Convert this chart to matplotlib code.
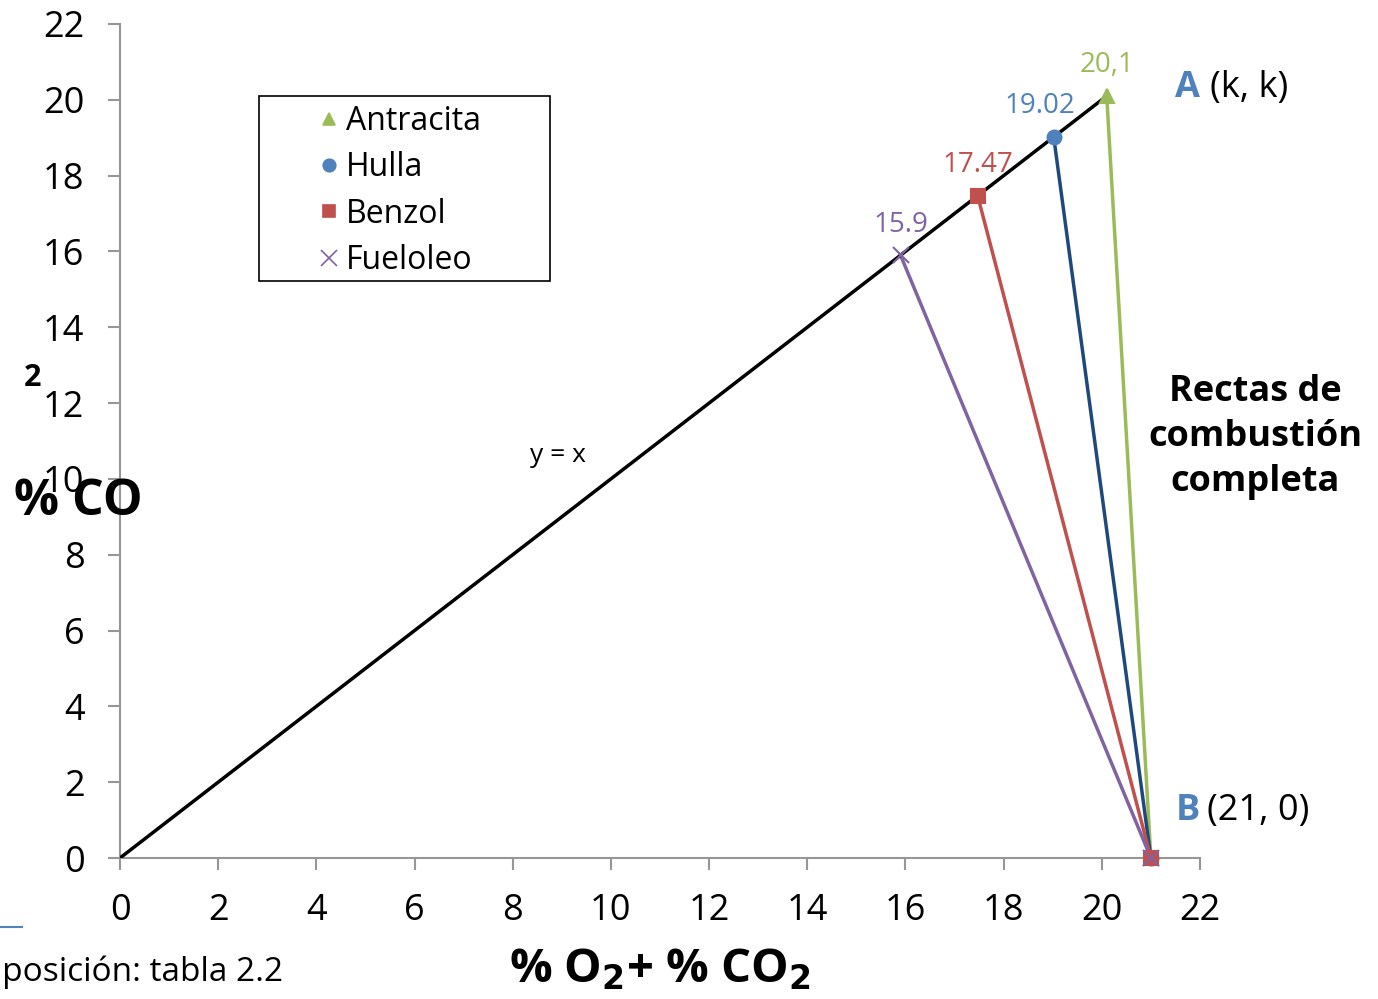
import matplotlib
matplotlib.rcParams["axes.unicode_minus"] = False
import matplotlib.pyplot as plt
from matplotlib.lines import Line2D
from matplotlib.patches import Rectangle

plt.rcParams["font.family"] = ["Open Sans", "DejaVu Sans"]

# combustibles: punto sobre y = x (k, k) y recta hasta B (21, 0)
fuels = ["Antracita", "Hulla", "Benzol", "Fueloleo"]
k_values = [20.1, 19.02, 17.47, 15.9]
k_labels = ["20,1", "19.02", "17.47", "15.9"]
marker_colors = ["#9BBB59", "#4F81BD", "#C0504D", "#8064A2"]
line_colors = ["#9BBB59", "#1F497D", "#C0504D", "#8064A2"]
markers = ["^", "o", "s", "x"]
point_b = (21, 0)
ticks = list(range(0, 23, 2))

W, H = 1378, 999


def fx(px):
    return px / W


def fy(py):
    return 1 - py / H


fig = plt.figure(figsize=(W / 100, H / 100), dpi=100)
ax = fig.add_axes([fx(120), fy(858), 1080 / W, 834 / H])
ax.set_xlim(0, 22)
ax.set_ylim(0, 22)
for s in ("top", "right"):
    ax.spines[s].set_visible(False)
for s in ("left", "bottom"):
    ax.spines[s].set_color("#969696")
    ax.spines[s].set_linewidth(1.5)
ax.set_xticks(ticks)
ax.set_yticks(ticks)
ax.tick_params(colors="#969696", labelcolor="black", length=8.5, width=1.5,
               labelsize=26, direction="out")
ax.tick_params(axis="x", pad=17)
ax.tick_params(axis="y", pad=17)

# recta y = x
ax.plot([0, k_values[0]], [0, k_values[0]], color="black", lw=2.5, zorder=3)

# rectas de combustion completa
for k, lc in zip(k_values, line_colors):
    ax.plot([k, point_b[0]], [k, point_b[1]], color=lc, lw=2.5, zorder=2)

for name, k, mc, m in zip(fuels, k_values, marker_colors, markers):
    ms = 10 if m != "x" else 12
    ax.plot([k, point_b[0]], [k, point_b[1]], ls="none", marker=m, color=mc,
            ms=ms, mew=1.5, zorder=4, clip_on=False)

offsets = [(0, 12), (-10, 12), (0, 12), (0, 12)]
for k, lab, mc, off in zip(k_values, k_labels, marker_colors, offsets):
    ax.annotate(lab, (k, k), xytext=off, textcoords="offset points",
                ha="center", va="bottom", color=mc, fontsize=20)

ax.text(8.92, 10.63, "y = x", fontsize=19, ha="center", va="center")

ax.text(21.5, 20.3, "A", color="#4F81BD", fontsize=26, fontweight="bold",
        ha="left", va="center")
ax.text(22.2, 20.3, "(k, k)", fontsize=26, ha="left", va="center")
ax.text(21.5, 1.25, "B", color="#4F81BD", fontsize=26, fontweight="bold",
        ha="left", va="center")
ax.text(22.15, 1.25, "(21, 0)", fontsize=26, ha="left", va="center")

fig.text(fx(1255), fy(437), "Rectas de\ncombustión\ncompleta",
         fontsize=26, fontweight="bold", ha="center", va="center",
         linespacing=1.35)

# titulos de ejes
fig.text(fx(78), fy(502), "% CO", fontsize=36, fontweight="bold",
         ha="center", va="center")
fig.text(fx(33), fy(378), "2", fontsize=22, fontweight="bold",
         ha="center", va="center")
fig.text(fx(660), fy(970), r"% O$_\mathbf{2}$+ % CO$_\mathbf{2}$",
         fontsize=34, fontweight="bold", ha="center", va="center")

fig.text(fx(283), fy(972), "Composición: tabla 2.2", fontsize=24,
         ha="right", va="center")
fig.add_artist(Line2D([0, fx(22)], [fy(927)] * 2, color="#4F81BD", lw=1.5))

# leyenda (marco dibujado aparte)
fig.add_artist(Rectangle((fx(259), fy(281)), 291 / W, 185 / H,
                         transform=fig.transFigure, fill=False,
                         edgecolor="black", lw=1.2))
handles = [Line2D([], [], ls="none", marker=m, color=mc, ms=9 if m != "x" else 11,
                  mew=1.2) for m, mc in zip(markers, marker_colors)]
ax.legend(handles, fuels, loc="upper left",
          bbox_to_anchor=(fx(308), fy(100)),
          bbox_transform=fig.transFigure, fontsize=23, frameon=False,
          borderpad=0.15, labelspacing=0.42, handletextpad=0.05,
          handlelength=1.0, borderaxespad=0)

fig.savefig("out.png", dpi=100)
